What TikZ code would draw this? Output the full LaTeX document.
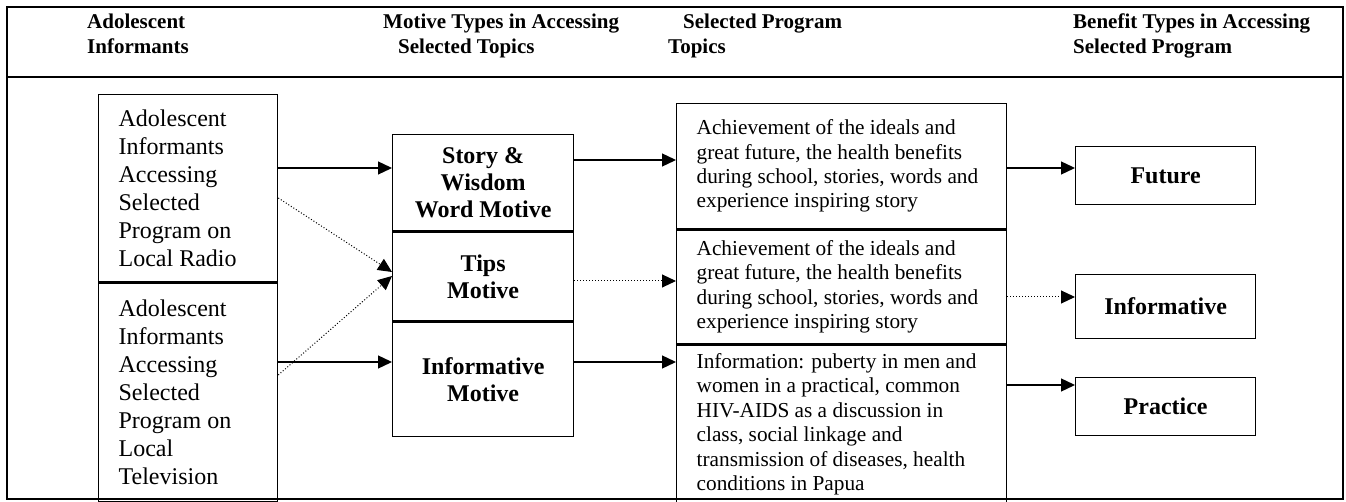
\documentclass[tikz,border=0pt]{standalone}
\usepackage{fontspec}
\setmainfont{Liberation Serif}
\usepackage{tikz}
\usetikzlibrary{arrows.meta, positioning}
\tikzset{
  plainbox/.style={draw, line width=1.3pt, anchor=north west, inner xsep=20pt, inner ysep=0pt},
  srcbox/.style={plainbox, text width=139pt, minimum width=179pt, align=flush left, font=\fontsize{24}{28}\selectfont},
  motbox/.style={plainbox, inner xsep=4pt, text width=173pt, minimum width=181pt, align=flush center, font=\fontsize{24}{27}\selectfont\bfseries},
  topbox/.style={plainbox, text width=290pt, minimum width=330pt, align=flush left, font=\fontsize{21.3}{24.4}\selectfont},
  benbox/.style={plainbox, inner xsep=4pt, text width=172pt, minimum width=180pt, align=flush center, font=\fontsize{24}{28}\selectfont\bfseries},
  colhead/.style={anchor=north west, inner sep=0pt, align=left, font=\fontsize{21}{25}\selectfont\bfseries},
  flow/.style={-{Triangle[length=14pt,width=13pt]}, line width=1.3pt},
  hint/.style={flow, line width=1pt, dotted},
}

\begin{document}
\begin{tikzpicture}[x=1pt, y=-1pt]
  \useasboundingbox (0,0) rectangle (1346,502);
  % outer frame and header rule
  \draw[line width=1.5pt] (7,7) rectangle (1343,499);
  \draw[line width=1.5pt] (7,77) -- (1343,77);
  % column headings
  \node[colhead] (hdinf) at (87,14) {Adolescent\\Informants};
  \node[colhead] (hdmot) at (383,14) {Motive Types in Accessing\\\hspace*{15pt}Selected Topics};
  \node[colhead] (hdtop) at (668,14) {\hspace*{15pt}Selected Program\\Topics};
  \node[colhead] (hdben) at (1073,14) {Benefit Types in Accessing\\Selected Program};
  % informants
  \node[srcbox, minimum height=187pt] (radio) at (98,94) {Adolescent\\Informants\\Accessing\\Selected\\Program on\\Local Radio};
  \node[srcbox, minimum height=219pt, below=0pt of radio] (tv) {Adolescent\\Informants\\Accessing\\Selected\\Program on\\Local\\Television};
  % motives
  \node[motbox, minimum height=96pt] (story) at (392,134) {Story \&\\Wisdom\\Word Motive};
  \node[motbox, minimum height=89pt, below=0pt of story] (tips) {Tips\\Motive};
  \node[motbox, minimum height=114pt, below=0pt of tips] (infmot) {Informative\\Motive};
  % program topics
  \node[topbox, minimum height=125pt] (topic1) at (676,103) {Achievement of the ideals and\\great future, the health benefits\\during school, stories, words and\\experience inspiring story};
  \node[topbox, minimum height=114pt, below=0pt of topic1] (topic2) {Achievement of the ideals and\\great future, the health benefits\\during school, stories, words and\\experience inspiring story};
  \node[topbox, minimum height=158pt, below=0pt of topic2] (topic3) {Information: puberty in men and\\women in a practical, common\\HIV-AIDS as a discussion in\\class, social linkage and\\transmission of diseases, health\\conditions in Papua};
  % benefits
  \node[benbox, minimum height=58pt] (future) at (1075,146) {Future};
  \node[benbox, minimum height=64pt] (inform) at (1075,274) {Informative};
  \node[benbox, minimum height=58pt] (practice) at (1075,377) {Practice};
  % informants -> motives
  \draw[flow] (radio.east |- 0,168) -- (story.west |- 0,168);
  \draw[hint] (radio.east |- 0,198) -- (tips.west |- 0,272);
  \draw[hint] (tv.east |- 0,375) -- (tips.west |- 0,276);
  \draw[flow] (tv.east |- 0,362) -- (infmot.west |- 0,362);
  % motives -> topics
  \draw[flow] (story.east |- 0,160) -- (topic1.west |- 0,160);
  \draw[hint] (tips.east |- 0,281) -- (topic2.west |- 0,281);
  \draw[flow] (infmot.east |- 0,362) -- (topic3.west |- 0,362);
  % topics -> benefits
  \draw[flow] (topic1.east |- 0,168) -- (future.west |- 0,168);
  \draw[hint] (topic2.east |- 0,297) -- (inform.west |- 0,297);
  \draw[flow] (topic3.east |- 0,385) -- (practice.west |- 0,385);
\end{tikzpicture}
\end{document}
